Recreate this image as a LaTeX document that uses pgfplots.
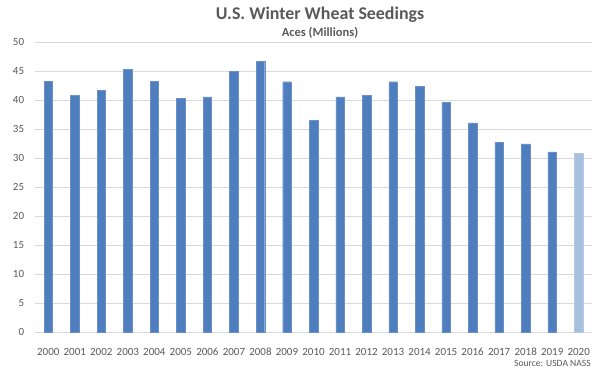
\documentclass[border=0pt]{standalone}
\usepackage{pgfplots}
\pgfplotsset{compat=1.18}
\usepackage{fontspec}
\setmainfont{Carlito}
\definecolor{barblue}{HTML}{4F7EBE}
\definecolor{barlight}{HTML}{A7C0DE}
\definecolor{txtgrey}{HTML}{595959}
\definecolor{gridgrey}{HTML}{D9D9D9}
\begin{document}
\begin{tikzpicture}
\path[use as bounding box] (-35pt,-37.7pt) rectangle (565pt,332.3pt);
\begin{axis}[
  at={(0,0)}, anchor=south west,
  scale only axis, width=557pt, height=290pt,
  xmin=-0.5, xmax=20.5, ymin=0, ymax=50,
  ytick={0,5,...,50},
  xtick={0,...,20},
  xticklabels={2000,2001,2002,2003,2004,2005,2006,2007,2008,2009,2010,2011,2012,2013,2014,2015,2016,2017,2018,2019,2020},
  ymajorgrids, grid style={gridgrey, line width=0.8pt},
  axis line style={draw=none},
  tick style={draw=none},
  /pgf/number format/assume math mode=true,
  ticklabel style={font=\fontsize{11}{12}\selectfont, text=txtgrey},
  yticklabel style={inner sep=0pt, anchor=east, xshift=-10.7pt},
  xticklabel style={inner sep=0pt, anchor=north, yshift=-11.2pt},
  ybar, bar width=8.5pt, bar shift=0pt,
]
\addplot[fill=barblue, draw=barblue!85!white, line width=0.4pt] coordinates {
(0,43.3) (1,40.9) (2,41.7) (3,45.3) (4,43.3) (5,40.3) (6,40.6) (7,45.0) (8,46.7) (9,43.2)
(10,36.6) (11,40.6) (12,40.9) (13,43.2) (14,42.4) (15,39.6) (16,36.1) (17,32.7) (18,32.5) (19,31.1)
};
\addplot[fill=barlight, draw=barlight!85!white, line width=0.4pt] coordinates {(20,30.8)};
\end{axis}
\node[text=txtgrey, font=\fontsize{17.9}{20}\selectfont\bfseries, inner sep=0pt] at (285pt,317.3pt) {U.S. Winter Wheat Seedings};
\node[text=txtgrey, font=\fontsize{12.5}{14}\selectfont\bfseries, inner sep=0pt] at (285pt,299.8pt) {Aces (Millions)};
\node[text=txtgrey, font=\fontsize{9.6}{11}\selectfont, inner sep=0pt, anchor=east] at (556pt,-31pt) {Source: USDA NASS};
\end{tikzpicture}
\end{document}
